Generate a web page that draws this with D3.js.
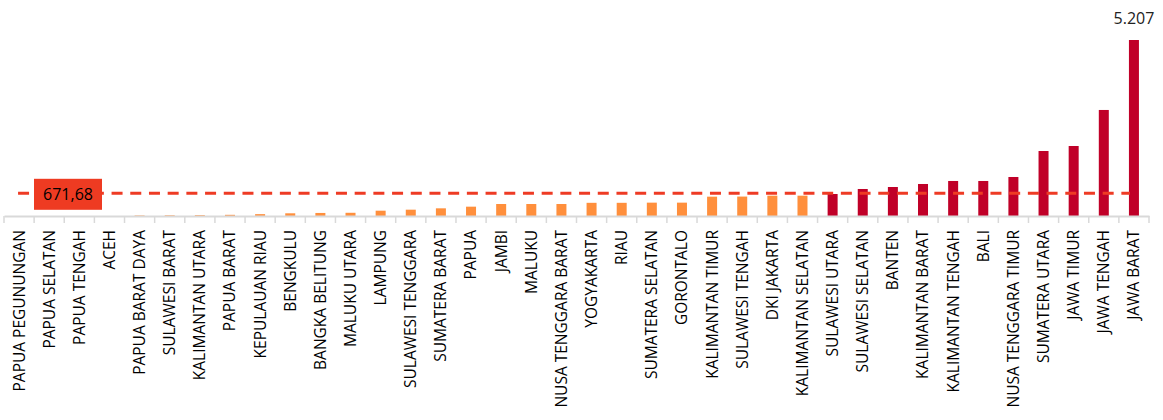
<!DOCTYPE html>
<html>
<head>
<meta charset="utf-8">
<script src="https://cdn.jsdelivr.net/npm/d3@7/dist/d3.min.js"></script>
<style>
  html, body { margin: 0; padding: 0; background: #fff; }
  svg { display: block; }
  text { font-family: "Open Sans", "Noto Sans", sans-serif; }
</style>
</head>
<body>
<svg id="chart" width="1163" height="420"></svg>
<script>
const categories = [
  "PAPUA PEGUNUNGAN", "PAPUA SELATAN", "PAPUA TENGAH", "ACEH", "PAPUA BARAT DAYA",
  "SULAWESI BARAT", "KALIMANTAN UTARA", "PAPUA BARAT", "KEPULAUAN RIAU", "BENGKULU",
  "BANGKA BELITUNG", "MALUKU UTARA", "LAMPUNG", "SULAWESI TENGGARA", "SUMATERA BARAT",
  "PAPUA", "JAMBI", "MALUKU", "NUSA TENGGARA BARAT", "YOGYAKARTA",
  "RIAU", "SUMATERA SELATAN", "GORONTALO", "KALIMANTAN TIMUR", "SULAWESI TENGAH",
  "DKI JAKARTA", "KALIMANTAN SELATAN", "SULAWESI UTARA", "SULAWESI SELATAN", "BANTEN",
  "KALIMANTAN BARAT", "KALIMANTAN TENGAH", "BALI", "NUSA TENGGARA TIMUR", "SUMATERA UTARA",
  "JAWA TIMUR", "JAWA TENGAH", "JAWA BARAT"
];
const values = [
  0, 0, 0, 0, 15,
  20, 25, 35, 55, 80,
  90, 95, 157, 187, 227,
  276, 355, 355, 355, 390,
  390, 395, 395, 572, 575,
  601, 601, 651, 799, 858,
  947, 1036, 1036, 1154, 1923,
  2071, 3137, 5207
];
// group: 0 = orange, 1 = red
const groups = [
  0,0,0,0,0, 0,0,0,0,0, 0,0,0,0,0, 0,0,0,0,0, 0,0,0,0,0, 0,0,
  1,1,1,1,1, 1,1,1,1,1,1
];
const average = 671.68;
const averageLabel = "671,68";
const maxLabel = "5.207";

const svg = d3.select("#chart");
const x = d3.scaleBand().domain(categories).range([4, 1149]).paddingInner(0).paddingOuter(0);
const y = d3.scaleLinear().domain([0, 5207]).range([216, 40]);
const barW = 10;
const colors = ["#FF8F3C", "#C00028"];

// bars
svg.append("g").selectAll("rect")
  .data(categories.map((c, i) => ({c, v: values[i], g: groups[i]})))
  .join("rect")
  .attr("x", d => x(d.c) + x.bandwidth() / 2 - barW / 2)
  .attr("width", barW)
  .attr("y", d => y(d.v))
  .attr("height", d => y(0) - y(d.v))
  .attr("fill", d => colors[d.g]);

// axis
const axis = d3.axisBottom(x).tickSize(0).tickFormat(d => d);
const ag = svg.append("g").attr("transform", `translate(0,${y(0)})`).call(axis);
ag.select(".domain").attr("stroke", "#D9D9D9").attr("stroke-width", 2);
ag.selectAll(".tick line").remove();
// boundary ticks
const bounds = categories.map(c => x(c)).concat([x.range()[1]]);
ag.selectAll("line.bt").data(bounds).join("line").attr("class", "bt")
  .attr("x1", d => d).attr("x2", d => d).attr("y1", 0).attr("y2", 7)
  .attr("stroke", "#D9D9D9").attr("stroke-width", 1.5);
ag.selectAll(".tick text")
  .attr("transform", "rotate(-90)")
  .attr("text-anchor", "end")
  .attr("x", -14).attr("y", 0).attr("dy", "0.35em")
  .attr("fill", "#000")
  .style("font-size", "15.5px")
  .style("font-family", "'Open Sans', sans-serif");

// average dashed line
const first = categories[0], last = categories[categories.length - 1];
svg.append("line")
  .attr("x1", x(first) + x.bandwidth() / 2 - 1)
  .attr("x2", x(last) + x.bandwidth() / 2 - 4)
  .attr("y1", y(average)).attr("y2", y(average))
  .attr("stroke", "#EE3B24").attr("stroke-width", 3)
  .attr("stroke-dasharray", "11,7.7");

// average label box
const bx = 34, bw = 68, bh = 31;
svg.append("rect")
  .attr("x", bx).attr("y", y(average) - 14.5)
  .attr("width", bw).attr("height", bh)
  .attr("fill", "#EE3B22");
svg.append("text")
  .attr("x", bx + bw / 2).attr("y", y(average) + 1)
  .attr("dy", "0.35em")
  .attr("text-anchor", "middle")
  .style("font-size", "16px")
  .attr("fill", "#000")
  .text(averageLabel);

// max label
svg.append("text")
  .attr("x", x(last) + x.bandwidth() / 2)
  .attr("y", y(5207) - 16)
  .attr("text-anchor", "middle")
  .style("font-size", "16px")
  .attr("fill", "#222")
  .text(maxLabel);
</script>
</body>
</html>
